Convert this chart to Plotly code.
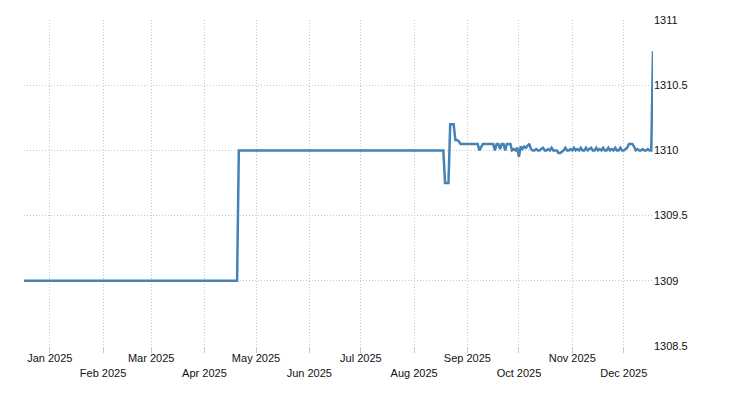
import pandas as pd
import plotly.graph_objects as go

# Flat early period (change points)
early_dates = ["2024-12-17", "2025-04-20", "2025-04-21", "2025-08-18"]
early_values = [1309.0, 1309.0, 1310.0, 1310.0]

# Daily values, Aug 19 - Dec 18 2025
aug_values = [1309.75, 1309.75, 1309.75, 1310.2, 1310.2, 1310.2, 1310.08, 1310.08,
              1310.07, 1310.05, 1310.05, 1310.05, 1310.05]
sep_values = [1310.05, 1310.05, 1310.05, 1310.05, 1310.05, 1310.05, 1310.05,
              1310.0, 1310.02,
              1310.05, 1310.05, 1310.05, 1310.05, 1310.05, 1310.05, 1310.05,
              1310.0, 1310.05, 1310.05, 1310.01, 1310.05, 1310.05, 1310.0,
              1310.05, 1310.05, 1310.05, 1310.0, 1310.01, 1310.0, 1310.02]
oct_values = [1309.95, 1310.03, 1310.01, 1310.03, 1310.02, 1310.04, 1310.05, 1310.01,
              1310.0, 1310.0, 1310.01, 1310.0, 1310.0, 1310.01, 1310.02, 1310.0,
              1310.0, 1310.01, 1310.0, 1310.02, 1310.0, 1310.0, 1310.0, 1309.98,
              1309.98, 1309.99, 1310.0, 1310.02, 1310.0, 1310.0, 1310.01]
nov_values = [1310.0, 1310.02, 1310.0, 1310.01, 1310.0, 1310.02, 1310.0, 1310.0,
              1310.02, 1310.0, 1310.01, 1310.02, 1310.0, 1310.0, 1310.02, 1310.0,
              1310.01, 1310.0, 1310.02, 1310.0, 1310.0, 1310.02, 1310.0, 1310.01,
              1310.0, 1310.02, 1310.0, 1310.0, 1310.02, 1310.0]
dec_values = [1310.0, 1310.01, 1310.02, 1310.05, 1310.05, 1310.05, 1310.03, 1310.0,
              1310.01, 1310.0, 1310.0, 1310.01, 1310.0, 1310.0, 1310.01, 1310.0,
              1310.0, 1310.76]

tick_dates = ["2025-01-01", "2025-02-01", "2025-03-01", "2025-04-01", "2025-05-01",
              "2025-06-01", "2025-07-01", "2025-08-01", "2025-09-01", "2025-10-01",
              "2025-11-01", "2025-12-01"]
tick_labels = ["Jan 2025", "Feb 2025", "Mar 2025", "Apr 2025", "May 2025", "Jun 2025",
               "Jul 2025", "Aug 2025", "Sep 2025", "Oct 2025", "Nov 2025", "Dec 2025"]
y_ticks = [1308.5, 1309, 1309.5, 1310, 1310.5, 1311]
y_tick_labels = ["1308.5", "1309", "1309.5", "1310", "1310.5", "1311"]

daily_dates = list(pd.date_range("2025-08-19", "2025-12-18", freq="D").strftime("%Y-%m-%d"))
daily_values = aug_values + sep_values + oct_values + nov_values + dec_values

x = early_dates + daily_dates
y = early_values + daily_values

staggered = [lab if i % 2 == 0 else "<br>" + lab for i, lab in enumerate(tick_labels)]

fig = go.Figure()
fig.add_trace(go.Scatter(x=x, y=y, mode="lines",
                         line=dict(color="#4682B4", width=2.5),
                         hoverinfo="skip"))

font = dict(family="Liberation Sans, Arial, sans-serif", size=11, color="#111")
grid = dict(showgrid=True, gridcolor="#c8c8c8", gridwidth=1, griddash="1px,2px",
            zeroline=False, showline=False, automargin=False)

fig.update_layout(
    width=722, height=392,
    margin=dict(l=16, r=77, t=12, b=54),
    paper_bgcolor="white", plot_bgcolor="white",
    showlegend=False,
    font=font,
    xaxis=dict(type="date", range=["2024-12-17", "2025-12-18"],
               tickvals=tick_dates, ticktext=staggered, tickangle=0,
               ticks="outside", ticklen=6, tickcolor="#c8c8c8", tickwidth=1,
               ticklabelstandoff=-4,
               tickfont=font, **grid),
    yaxis=dict(range=[1308.5, 1311], side="right",
               tickvals=y_ticks, ticktext=y_tick_labels,
               ticks="", tickfont=font, **grid),
)

fig.write_html("out.html")
